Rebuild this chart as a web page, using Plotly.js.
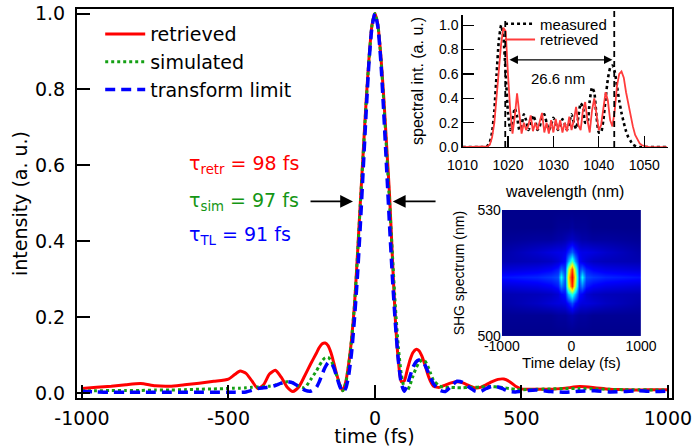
<!DOCTYPE html>
<html>
<head>
<meta charset="utf-8">
<script src="https://cdn.plot.ly/plotly-3.0.1.min.js"></script>
<style>html,body{margin:0;padding:0;background:#fff;}#chart{width:694px;height:447px;}</style>
</head>
<body>
<div id="chart"></div>
<script>
// ---- main panel: temporal intensity ----
const time = [-1000,-950,-900,-850,-800,-750,-700,-650,-600,-550,
  -500,-480,-460,-440,-420,-400,-380,-360,-340,-320,-300,-280,-260,-240,-220,
  -200,-190,-180,-170,-160,-150,-140,-130,-120,-110,-100,-90,-80,-70,-60,-50,-40,-30,-20,-10,
  0,10,20,30,40,50,60,70,80,90,100,110,120,130,140,150,160,170,180,190,200,
  220,240,260,280,300,320,340,360,380,400,420,440,460,480,500,
  550,600,650,700,750,800,850,900,950,1000];
const retrieved = [0.012,0.015,0.018,0.022,0.025,0.019,0.018,0.022,0.026,0.031,
  0.037,0.048,0.058,0.052,0.032,0.012,0.022,0.05,0.06,0.042,0.016,0.004,0.016,0.045,0.076,
  0.105,0.12,0.13,0.132,0.125,0.106,0.078,0.048,0.022,0.006,0.028,0.075,0.14,0.23,0.36,0.5,0.635,0.77,0.885,0.97,
  1.0,0.97,0.89,0.78,0.65,0.52,0.35,0.19,0.085,0.03,0.032,0.06,0.088,0.107,0.115,0.112,0.098,0.076,0.05,0.03,0.018,
  0.015,0.021,0.027,0.03,0.027,0.02,0.014,0.015,0.022,0.03,0.036,0.037,0.03,0.018,0.011,
  0.01,0.01,0.013,0.017,0.014,0.01,0.009,0.008,0.009,0.009];
const simulated = [0.006,0.006,0.007,0.007,0.007,0.008,0.008,0.009,0.01,0.011,
  0.012,0.013,0.013,0.014,0.015,0.016,0.017,0.018,0.021,0.026,0.03,0.027,0.018,0.014,0.035,
  0.058,0.072,0.085,0.093,0.094,0.086,0.068,0.045,0.022,0.006,0.025,0.072,0.14,0.23,0.355,0.495,0.63,0.765,0.88,0.97,
  1.0,0.97,0.885,0.77,0.635,0.5,0.36,0.225,0.12,0.05,0.014,0.006,0.022,0.045,0.065,0.08,0.087,0.085,0.072,0.052,0.033,
  0.019,0.015,0.015,0.014,0.014,0.015,0.015,0.016,0.017,0.017,0.016,0.014,0.012,0.01,0.009,
  0.01,0.011,0.012,0.012,0.011,0.01,0.009,0.009,0.008,0.008];
const transformLimit = [0.004,0.003,0.002,0.002,0.002,0.002,0.002,0.002,0.002,0.002,
  0.002,0.002,0.002,0.003,0.007,0.012,0.014,0.016,0.02,0.026,0.03,0.027,0.017,0.008,0.005,
  0.015,0.03,0.05,0.068,0.08,0.08,0.066,0.042,0.018,0.003,0.012,0.045,0.105,0.195,0.305,0.44,0.59,0.74,0.875,0.965,
  1.0,0.965,0.875,0.74,0.59,0.44,0.3,0.18,0.085,0.025,0.005,0.02,0.045,0.068,0.082,0.087,0.085,0.075,0.058,0.04,0.024,
  0.008,0.004,0.018,0.031,0.028,0.016,0.006,0.004,0.012,0.018,0.016,0.01,0.004,0.003,0.005,
  0.008,0.004,0.002,0.005,0.006,0.003,0.004,0.006,0.004,0.005];
const timeTicks = [-1000,-500,0,500,1000];
const timeTickText = ['-1000','-500','0','500','1000'];
const intTicks = [0,0.2,0.4,0.6,0.8,1.0];
const intTickText = ['0.0','0.2','0.4','0.6','0.8','1.0'];

// ---- inset 1: spectrum ----
const wavelength = [1010,1014,1014.5,1015,1015.5,1016,1016.5,1017,1017.5,1018,1018.5,1019,1019.5,1020,1020.5,
  1021,1021.5,1022,1022.5,1023,1023.5,1024,1024.5,1025,1025.5,1026,1026.5,1027,1027.5,1028,1028.5,
  1029,1029.5,1030,1030.5,1031,1031.5,1032,1032.5,1033,1033.5,1034,1034.5,1035,1035.5,1036,1036.5,
  1037,1037.5,1038,1038.5,1039,1039.5,1040,1040.5,1041,1041.5,1042,1042.5,1043,1043.5,1044,1044.5,
  1045,1045.5,1046,1046.5,1047,1047.5,1048,1048.5,1049,1049.5,1050,1050.5,1051,1055];
const measuredSpec = [0,0,0,0.003,0.01,0.04,0.12,0.3,0.6,0.88,1.0,0.9,0.6,0.28,0.14,
  0.22,0.32,0.25,0.14,0.18,0.27,0.22,0.14,0.18,0.26,0.22,0.14,0.17,0.25,0.27,0.2,
  0.14,0.18,0.24,0.2,0.14,0.17,0.23,0.19,0.14,0.2,0.27,0.2,0.15,0.25,0.36,0.33,
  0.2,0.2,0.38,0.49,0.45,0.25,0.12,0.12,0.22,0.4,0.56,0.65,0.67,0.62,0.5,0.38,
  0.28,0.2,0.13,0.08,0.05,0.02,0.01,0.004,0,0,0,0,0,0];
const retrievedSpec = [0,0,0,0.002,0.005,0.02,0.08,0.2,0.4,0.6,0.85,0.98,0.95,0.6,0.3,
  0.11,0.25,0.44,0.25,0.11,0.2,0.14,0.18,0.26,0.13,0.2,0.14,0.22,0.28,0.12,0.2,
  0.11,0.22,0.12,0.23,0.14,0.22,0.12,0.2,0.13,0.25,0.14,0.22,0.33,0.18,0.14,0.3,
  0.37,0.22,0.12,0.3,0.4,0.25,0.14,0.18,0.32,0.45,0.38,0.22,0.17,0.3,0.5,0.6,
  0.62,0.57,0.45,0.35,0.25,0.17,0.1,0.06,0.03,0.015,0.008,0.003,0,0];
const wlTicks = [1010,1020,1030,1040,1050];
const specTicks = [0,0.2,0.4,0.6,0.8,1.0];
const specTickText = ['0.0','0.2','0.4','0.6','0.8','1.0'];
const fwhmEdges = [1019.4, 1043.4];

// ---- inset 2: SHG FROG trace ----
const delay = [-1000,-500,-300,-200,-150,-100,-50,0,50,100,150,200,300,500,1000];
const shgWl = [500,505,508,510,512,514,516,518,520,523,526,530];
const frog = [
  [0,0,0,0,0,0,0,0,0,0,0,0,0,0,0],
  [0.01,0.01,0.01,0.02,0.02,0.02,0.03,0.04,0.03,0.02,0.02,0.02,0.01,0.01,0.01],
  [0.03,0.06,0.08,0.09,0.09,0.1,0.14,0.2,0.14,0.1,0.09,0.09,0.08,0.06,0.03],
  [0.04,0.05,0.06,0.08,0.12,0.14,0.3,0.42,0.3,0.14,0.12,0.08,0.06,0.05,0.04],
  [0.08,0.1,0.12,0.15,0.25,0.18,0.55,0.85,0.55,0.18,0.25,0.15,0.12,0.1,0.08],
  [0.14,0.16,0.18,0.2,0.38,0.2,0.62,0.9,0.62,0.2,0.38,0.2,0.18,0.16,0.14],
  [0.08,0.1,0.12,0.15,0.22,0.17,0.52,0.82,0.52,0.17,0.22,0.15,0.12,0.1,0.08],
  [0.04,0.05,0.06,0.08,0.1,0.13,0.28,0.45,0.28,0.13,0.1,0.08,0.06,0.05,0.04],
  [0.03,0.07,0.09,0.1,0.1,0.11,0.16,0.22,0.16,0.11,0.1,0.1,0.09,0.07,0.03],
  [0.01,0.02,0.02,0.03,0.03,0.04,0.05,0.06,0.05,0.04,0.03,0.03,0.02,0.02,0.01],
  [0,0,0,0.01,0.01,0.01,0.01,0.02,0.01,0.01,0.01,0.01,0,0,0],
  [0,0,0,0,0,0,0,0,0,0,0,0,0,0,0]
];
const delayTicks = [-1000,0,1000];
const delayTickText = ['-1000','0','1000'];
const shgTicks = [500,530];

const MAIN = 'DejaVu Sans';
const INS = 'Liberation Sans, Arial, sans-serif';

const traces = [
  {x: time, y: retrieved, type:'scatter', mode:'lines', name:'retrieved',
   line:{color:'rgb(255,0,0)', width:3, shape:'spline', smoothing:0.6}, xaxis:'x', yaxis:'y', legend:'legend'},
  {x: time, y: simulated, type:'scatter', mode:'lines', name:'simulated',
   line:{color:'rgb(20,160,20)', width:3, dash:'dot', shape:'spline', smoothing:0.6}, xaxis:'x', yaxis:'y', legend:'legend'},
  {x: time, y: transformLimit, type:'scatter', mode:'lines', name:'transform limit',
   line:{color:'rgb(0,0,255)', width:3.5, dash:'10px,6px', shape:'spline', smoothing:0.6}, xaxis:'x', yaxis:'y', legend:'legend'},
  {x: wavelength, y: measuredSpec, type:'scatter', mode:'lines', name:'measured',
   line:{color:'black', width:2.6, dash:'dot', shape:'spline', smoothing:0.5}, xaxis:'x2', yaxis:'y2', legend:'legend2'},
  {x: wavelength, y: retrievedSpec, type:'scatter', mode:'lines', name:'retrieved',
   line:{color:'rgb(255,60,60)', width:1.8}, xaxis:'x2', yaxis:'y2', legend:'legend3'},
  {x: delay, y: shgWl, z: frog, type:'heatmap', zsmooth:'best', zmin:0, zmax:1, showscale:false,
   colorscale:[[0,'rgb(0,0,140)'],[0.125,'rgb(0,0,255)'],[0.375,'rgb(0,255,255)'],[0.625,'rgb(255,255,0)'],[0.875,'rgb(255,0,0)'],[1,'rgb(128,0,0)']],
   xaxis:'x3', yaxis:'y3', showlegend:false, hoverinfo:'skip'}
];

const layout = {
  width:694, height:447,
  margin:{l:77, r:22, t:7, b:49},
  paper_bgcolor:'white', plot_bgcolor:'white',
  font:{family:MAIN, color:'black', size:19},
  showlegend:true,
  xaxis:{domain:[0,1], anchor:'y', range:[-1017,1014], tickvals:timeTicks, ticktext:timeTickText,
    ticks:'inside', ticklen:13, tickwidth:2, tickcolor:'black', showline:true, linewidth:2, linecolor:'black', mirror:true,
    showgrid:false, zeroline:false, tickfont:{size:19}, ticklabelstandoff:2, title:{text:'time (fs)', font:{size:19}, standoff:0}},
  yaxis:{domain:[0,1], anchor:'x', range:[-0.013,1.012], tickvals:intTicks, ticktext:intTickText,
    ticks:'inside', ticklen:13, tickwidth:2, tickcolor:'black', showline:true, linewidth:2, linecolor:'black', mirror:true,
    showgrid:false, zeroline:false, tickfont:{size:19}, ticklabelstandoff:6, title:{text:'intensity (a. u.)', font:{size:19}, standoff:2}},
  xaxis2:{domain:[0.648,0.993], anchor:'y2', range:[1010,1055.2], tickvals:wlTicks,
    ticks:'inside', ticklen:11, tickwidth:1.3, tickcolor:'black', showline:true, linewidth:1.3, linecolor:'black',
    showgrid:false, zeroline:false, tickfont:{family:INS, size:14}, ticklabelstandoff:5,
    title:{text:'wavelength (nm)', font:{family:INS, size:16}, standoff:13}},
  yaxis2:{domain:[0.645,0.985], anchor:'x2', range:[0,1.085], tickvals:specTicks, ticktext:specTickText,
    ticks:'inside', ticklen:11, tickwidth:1.3, tickcolor:'black', showline:true, linewidth:1.3, linecolor:'black',
    showgrid:false, zeroline:false, tickfont:{family:INS, size:14}, title:{text:'spectral int. (a. u.)', font:{family:INS, size:16}, standoff:11}},
  xaxis3:{domain:[0.714,0.948], anchor:'y3', range:[-1000,1000], tickvals:delayTicks, ticktext:delayTickText,
    ticks:'', showline:false, showgrid:false, zeroline:false, tickfont:{family:INS, size:14},
    title:{text:'Time delay (fs)', font:{family:INS, size:15}, standoff:4}},
  yaxis3:{domain:[0.1586,0.4834], anchor:'x3', range:[500,530], tickvals:shgTicks,
    ticks:'', showline:false, showgrid:false, zeroline:false, tickfont:{family:INS, size:14},
    title:{text:'SHG spectrum (nm)', font:{family:INS, size:14}, standoff:9}},
  legend:{x:0.039, y:0.984, xanchor:'left', yanchor:'top', bgcolor:'rgba(0,0,0,0)', borderwidth:0,
    font:{family:MAIN, size:19}, itemwidth:40, tracegroupgap:0},
  legend2:{x:0.711, y:0.9616, xanchor:'left', yanchor:'middle', bgcolor:'rgba(0,0,0,0)', borderwidth:0,
    font:{family:INS, size:15}, tracegroupgap:0},
  legend3:{x:0.711, y:0.921, xanchor:'left', yanchor:'middle', bgcolor:'rgba(0,0,0,0)', borderwidth:0,
    font:{family:INS, size:15}, tracegroupgap:0},
  shapes:[
    {type:'line', xref:'x2', yref:'paper', x0:fwhmEdges[0], x1:fwhmEdges[0], y0:0.645, y1:0.974, line:{color:'black', width:1.8, dash:'6px,4px'}},
    {type:'line', xref:'x2', yref:'paper', x0:fwhmEdges[1], x1:fwhmEdges[1], y0:0.645, y1:1.0, line:{color:'black', width:1.8, dash:'6px,4px'}}
  ],
  annotations:[
    {xref:'x', yref:'y', x:-640, y:0.603, xanchor:'left', yanchor:'middle', showarrow:false,
     text:'τ<sub>retr</sub> = 98 fs', font:{family:MAIN, size:19, color:'rgb(255,0,0)'}},
    {xref:'x', yref:'y', x:-640, y:0.506, xanchor:'left', yanchor:'middle', showarrow:false,
     text:'τ<sub>sim</sub> = 97 fs', font:{family:MAIN, size:19, color:'rgb(20,150,20)'}},
    {xref:'x', yref:'y', x:-640, y:0.414, xanchor:'left', yanchor:'middle', showarrow:false,
     text:'τ<sub>TL</sub> = 91 fs', font:{family:MAIN, size:19, color:'rgb(0,0,255)'}},
    {xref:'x', yref:'y', x:-75, y:0.505, ax:-225, ay:0.505, axref:'x', ayref:'y', text:'', showarrow:true,
     arrowhead:2, arrowsize:1.6, arrowwidth:1.6, arrowcolor:'black', standoff:0},
    {xref:'x', yref:'y', x:61, y:0.505, ax:212, ay:0.505, axref:'x', ayref:'y', text:'', showarrow:true,
     arrowhead:2, arrowsize:1.6, arrowwidth:1.6, arrowcolor:'black', standoff:0},
    {xref:'x2', yref:'y2', x:1043, y:0.716, ax:1020, ay:0.716, axref:'x2', ayref:'y2', text:'', showarrow:true,
     arrowside:'end+start', arrowhead:2, startarrowhead:2, arrowsize:1.3, startarrowsize:1.3, arrowwidth:1.3, arrowcolor:'black', standoff:0, startstandoff:0},
    {xref:'x2', yref:'y2', x:1031, y:0.56, text:'26.6 nm', showarrow:false, font:{family:INS, size:15, color:'black'}}
  ]
};

Plotly.newPlot('chart', traces, layout, {staticPlot:true, displayModeBar:false});
</script>
</body>
</html>
